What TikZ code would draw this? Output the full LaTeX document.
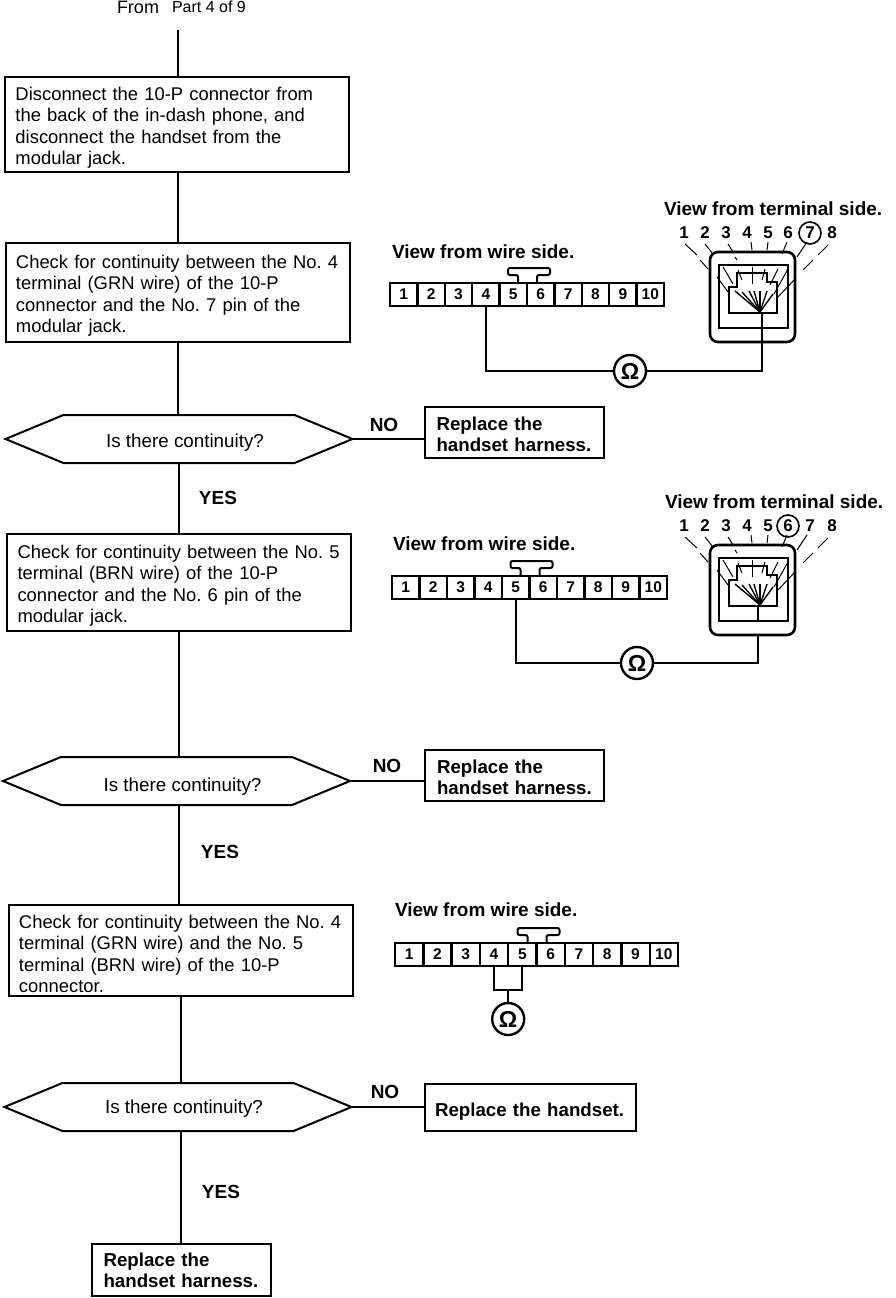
\documentclass[tikz,border=0pt]{standalone}
\usepackage{fontspec}
\setmainfont{Liberation Sans}
\usepackage{tikz}
\usetikzlibrary{positioning, calc, shapes.symbols}
\frenchspacing

% ten-way connector: prefix, left x, top y, pitch
\newcommand{\tenpin}[4]{
    \foreach \n in {1,...,10} {
        \node[pin, minimum width=#4pt] (#1\n) at ({#2+(\n-0.5)*#4}, #3+11.5) {\n};
    }
    \draw[wire, rounded corners=2pt] ($(#15.north east)+(-9,0)$) -- ++(0,-8) -- ++(-10,0) -- ++(0,-7) -- ++(42,0) -- ++(0,7) -- ++(-13,0) -- ++(0,8);
}

% modular jack: name, left x, top y, ringed pin, stem x
\newcommand{\modjack}[5]{
    \begin{scope}[shift={(#2,#3)}]
        \node[jackbody, anchor=north west] (#1) at (0,0) {};
        \draw[wire] (9,13) rectangle (78,76);
        \draw[wire] (19,61) -- (19,35) -- (27,35) -- (27,21) -- (57,21) -- (57,30) -- (67,30) -- (67,61) -- cycle;
        \coordinate (#1stem) at (#5,61);
        \draw[wire] (#1stem) -- (#5,76);
        % fan of contacts
        \foreach \fx/\fy in {25/39, 32/40, 39/39, 44/39, 50/39, 57/39, 63/42} {
            \draw[fan] (50,60) -- (\fx,\fy);
        }
        % leaders
        \foreach \ax/\ay/\bx/\by in {-25/-8/-13/3, -10/8/-2/17, 7/25/18/40,
                -5/-8/3/2, 13/15/23/32,
                18/-8/23/0, 25/5/27/8, 28/18/32/28,
                41/-10/42/-2, 42/15/42/32,
                58/-10/57/-2, 55/17/52/28,
                77/-10/72/2, 68/17/60/33,
                97/-10/87/5, 78/17/64/42,
                118/-7/108/3, 103/8/93/18, 85/27/68/45} {
            \draw[lead] (\ax,\ay) -- (\bx,\by);
        }
        % pin numbers
        \foreach \n/\lx in {1/-26, 2/-5, 3/16, 4/37, 5/58, 6/78, 7/100, 8/122} {
            \ifnum\n=#4 \def\numstyle{ringnum}\else\def\numstyle{num}\fi
            \node[\numstyle] (#1n\n) at (\lx,-19) {\n};
        }
    \end{scope}
}

\begin{document}
\begin{tikzpicture}[
        x=1pt, y=-1pt,
        every node/.style={outer sep=0pt},
        text drop/.style={execute at begin node={\rule{0pt}{#1}}},
        flowbox/.style={rectangle, draw, line width=2pt, text width=323pt, inner xsep=10.5pt, inner ysep=0pt, align=left, text drop=20pt, font=\fontsize{18.4}{21.4}\selectfont},
        decision/.style={signal, signal to=west and east, signal pointer angle=45, draw, line width=2pt, minimum width=347pt, minimum height=48pt, inner sep=0pt, text depth=4pt, font=\fontsize{18.8}{20}\selectfont},
        action/.style={rectangle, draw, line width=2pt, text width=155pt, inner xsep=12pt, inner ysep=0pt, align=left, font=\fontsize{18.7}{21}\selectfont\bfseries},
        answer/.style={font=\fontsize{19}{20}\selectfont\bfseries, inner sep=0pt},
        viewlabel/.style={anchor=west, font=\fontsize{19}{20}\selectfont\bfseries, inner sep=0pt},
        pin/.style={rectangle, draw, line width=2.4pt, minimum height=23pt, inner sep=0pt, font=\fontsize{15.5}{14}\selectfont\bfseries},
        meter/.style={circle, draw, line width=2.4pt, minimum size=32pt, inner sep=0pt, font=\fontsize{23}{21}\selectfont\bfseries},
        jackbody/.style={rectangle, draw, line width=2.6pt, rounded corners=8pt, minimum width=85pt, minimum height=90pt},
        num/.style={font=\fontsize{17}{16}\selectfont\bfseries, inner sep=0pt},
        ringnum/.style={circle, draw, line width=1.6pt, minimum size=22pt, inner sep=0pt, font=\fontsize{17}{16}\selectfont\bfseries},
        wire/.style={draw, line width=2pt},
        fan/.style={draw, line width=1.4pt},
        lead/.style={draw, line width=1pt},
        line/.style={draw, line width=2pt}
    ]
        \useasboundingbox (0,0) rectangle (896,1298);

        % Nodes
        \node[inner sep=0pt, font=\fontsize{18}{18}\selectfont, anchor=west] (fromtxt) at (117,7) {From};
        \node[inner sep=0pt, font=\fontsize{16}{16}\selectfont, anchor=west] (parttxt) at (172,7) {Part 4 of 9};
        \coordinate (start) at (178,30);

        \node[flowbox, minimum height=95pt] (box1) at (177,124.5) {Disconnect the 10-P connector from\\the back of the in-dash phone, and\\disconnect the handset from the\\modular jack.};
        \node[flowbox, minimum height=99pt, below=71pt of box1, xshift=0.5pt] (box2) {Check for continuity between the No. 4\\terminal (GRN wire) of the 10-P\\connector and the No. 7 pin of the\\modular jack.};
        \node[decision, text height=20pt, below=73pt of box2, xshift=1.5pt] (dec1) {\hspace{12pt}Is there continuity?};
        \node[flowbox, minimum height=97pt, below=71pt of dec1] (box3) {Check for continuity between the No. 5\\terminal (BRN wire) of the 10-P\\connector and the No. 6 pin of the\\modular jack.};
        \node[decision, text height=24pt, below=126pt of box3, xshift=-2.5pt] (dec2) {\hspace{12pt}Is there continuity?};
        \node[flowbox, minimum height=91pt, below=100pt of dec2, xshift=4pt] (box4) {Check for continuity between the No. 4\\terminal (GRN wire) and the No. 5\\terminal (BRN wire) of the 10-P\\connector.};
        \node[decision, text height=16pt, below=87pt of box4, xshift=-2.5pt] (dec3) {\hspace{12pt}Is there continuity?};
        \node[action, minimum height=52pt, below=113pt of dec3, xshift=3pt] (rep4) {Replace the\\handset harness.};

        \node[action, text drop=18pt, minimum height=51pt, right=72pt of dec1, yshift=6.5pt] (rep1) {Replace the\\handset harness.};
        \node[action, text drop=18pt, minimum height=51pt, right=75pt of dec2, yshift=5.5pt] (rep2) {Replace the\\handset harness.};
        \node[action, text drop=22pt, text width=190pt, inner xsep=10.5pt, minimum height=47pt, right=73pt of dec3] (rep3) {Replace the handset.};

        \node[answer] (no1) at (384,425) {NO};
        \node[answer] (no2) at (387,766) {NO};
        \node[answer] (no3) at (385,1092) {NO};
        \node[answer] (yes1) at (218,498) {YES};
        \node[answer] (yes2) at (220,852) {YES};
        \node[answer] (yes3) at (221,1192) {YES};

        \node[viewlabel] (wireA) at (392,252) {View from wire side.};
        \node[viewlabel] (wireB) at (393,544) {View from wire side.};
        \node[viewlabel] (wireC) at (395,910) {View from wire side.};
        \node[viewlabel] (termA) at (664,209) {View from terminal side.};
        \node[viewlabel] (termB) at (665,502) {View from terminal side.};

        \tenpin{pa}{390}{283}{27.4}
        \tenpin{pb}{392}{576}{27.5}
        \tenpin{pc}{395}{943}{28.3}

        \modjack{jackA}{710}{252}{7}{52}
        \modjack{jackB}{710}{545}{6}{48}

        \node[meter] (omA) at (630,371) {Ω};
        \node[meter] (omB) at (637,663) {Ω};
        \coordinate (joinC) at ($(pc4.south)!0.5!(pc5.south)+(0,24)$);
        \node[meter, below=13pt of joinC] (omC) {Ω};

        % Paths
        \path [line] (start) -- (start |- box1.north);
        \path [line] (box1.south -| start) -- (box2.north -| start);
        \path [line] (box2.south) -- (box2.south |- dec1.north);
        \path [line] (dec1.south) -- (dec1.south |- box3.north);
        \path [line] (box3.south) -- (box3.south |- dec2.north);
        \path [line] (box3.south |- dec2.south) -- (box3.south |- box4.north);
        \path [line] (box4.south) -- (box4.south |- dec3.north);
        \path [line] (box4.south |- dec3.south) -- (box4.south |- rep4.north);

        \path [line] (dec1.east) -- (dec1.east -| rep1.west);
        \path [line] (dec2.east) -- (dec2.east -| rep2.west);
        \path [line] (dec3.east) -- (dec3.east -| rep3.west);

        \path [line] (pa4.south) |- (omA.west);
        \path [line] (omA.east) -| (jackAstem);
        \path [line] (pb5.south) |- (omB.west);
        \path [line] (omB.east) -| (jackB.south -| jackBstem);
        \path [line] (pc4.south) |- (joinC);
        \path [line] (pc5.south) |- (joinC);
        \path [line] (joinC) -- (omC);
    \end{tikzpicture}
\end{document}
